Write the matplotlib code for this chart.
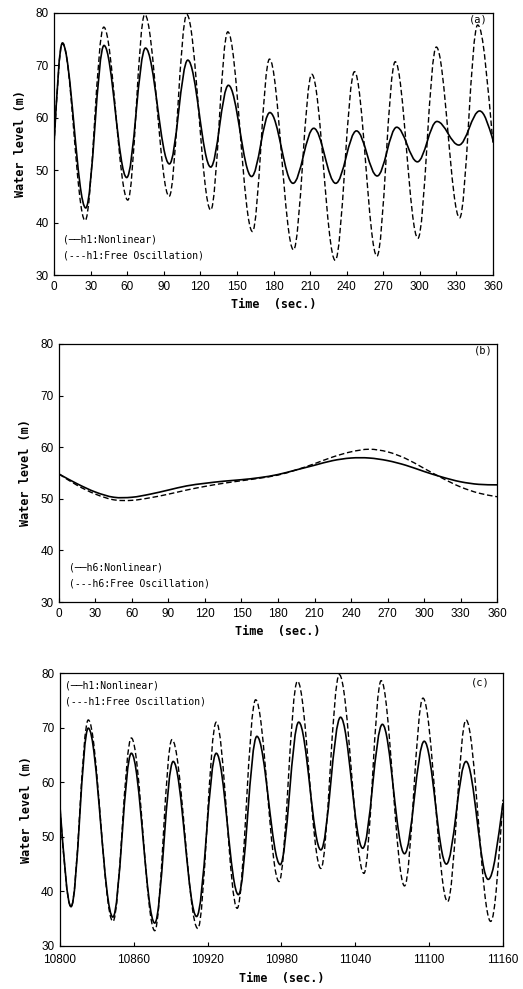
import numpy as np
import matplotlib
matplotlib.use("Agg")
import matplotlib.pyplot as plt
from matplotlib.path import Path
from matplotlib.patches import PathPatch
from matplotlib.font_manager import FontProperties

# ---- panel (a): extrema (time s, level m) ----
a_nl_t = [0, 6.8, 26, 41, 59.6, 75, 94.6, 109.7, 128.5, 143, 162, 177, 196, 213, 231,
          248, 265, 281, 298, 314, 332, 349, 360]
a_nl_y = [55.0, 74.2, 42.8, 73.8, 48.6, 73.3, 51.2, 71.0, 50.6, 66.2, 48.8, 61.0, 47.5,
          58.0, 47.5, 57.5, 48.9, 58.2, 51.6, 59.3, 54.8, 61.3, 55.8]
a_fo_t = [0, 7, 25.5, 40.8, 60.5, 74.4, 94.4, 108.9, 128.5, 142.5, 162.7, 176.7, 196.4,
          211.4, 230.6, 246.4, 264.8, 279.8, 298.4, 313.5, 332.6, 347.4, 360]
a_fo_y = [55.0, 74.3, 40.4, 77.3, 44.3, 79.7, 45.0, 79.7, 42.4, 76.4, 38.3, 71.2, 34.8,
          68.3, 32.8, 68.8, 33.6, 70.7, 37.0, 73.5, 40.9, 77.7, 55.0]

# ---- panel (b): values every 15 s ----
b_t = list(range(0, 361, 15))
b_nl_y = [54.8, 52.9, 51.3, 50.3, 50.3, 50.9, 51.7, 52.5, 53.0, 53.4, 53.7, 54.1, 54.7,
          55.6, 56.5, 57.4, 57.9, 57.9, 57.4, 56.5, 55.3, 54.2, 53.3, 52.8, 52.7]
b_fo_y = [54.8, 52.6, 50.9, 49.8, 49.7, 50.2, 50.9, 51.7, 52.4, 53.0, 53.5, 54.0, 54.6,
          55.6, 56.8, 58.1, 59.1, 59.6, 59.1, 57.8, 55.9, 54.0, 52.3, 51.1, 50.4]

# ---- panel (c): extrema ----
c_nl_t = [10800, 10809, 10823, 10843, 10858, 10877, 10892, 10911, 10927, 10945, 10960,
          10979, 10994, 11012, 11028, 11046, 11062, 11080, 11096, 11114, 11130, 11148, 11160]
c_nl_y = [55.5, 37.2, 69.9, 35.3, 65.3, 34.2, 63.8, 35.4, 65.3, 39.4, 68.4, 44.9, 71.0,
          47.6, 71.9, 47.9, 70.6, 46.9, 67.5, 45.0, 63.8, 42.2, 56.2]
c_fo_t = [10800, 10809, 10823, 10843, 10858, 10877, 10891, 10912, 10927, 10944, 10959,
          10978, 10993, 11012, 11027, 11047, 11061, 11080, 11095, 11115, 11130, 11150, 11160]
c_fo_y = [55.0, 37.2, 71.4, 34.5, 68.1, 32.8, 67.8, 33.2, 71.0, 36.9, 75.1, 41.8, 78.5,
          44.2, 79.7, 43.3, 78.6, 41.0, 75.4, 38.1, 71.4, 34.5, 56.8]


def smooth_path(t, y, flat=True):
    # cubic bezier through the points; flat=True -> horizontal tangents at interior extrema
    t = np.asarray(t, float); y = np.asarray(y, float)
    n = len(t)
    m = np.zeros(n)
    for i in range(n):
        if 0 < i < n - 1:
            m[i] = 0.0 if flat else (y[i + 1] - y[i - 1]) / (t[i + 1] - t[i - 1])
        elif i == 0:
            m[i] = (1.4 if flat else 1.0) * (y[1] - y[0]) / (t[1] - t[0])
        else:
            m[i] = (1.4 if flat else 1.0) * (y[-1] - y[-2]) / (t[-1] - t[-2])
    k = 0.36 if flat else 1 / 3.
    verts = [(t[0], y[0])]
    codes = [Path.MOVETO]
    for i in range(n - 1):
        dt = t[i + 1] - t[i]
        verts += [(t[i] + k * dt, y[i] + k * dt * m[i]),
                  (t[i + 1] - k * dt, y[i + 1] - k * dt * m[i + 1]),
                  (t[i + 1], y[i + 1])]
        codes += [Path.CURVE4] * 3
    return Path(verts, codes)


def draw(ax, t, y, dashed=False, flat=True):
    ls = (0, (4, 2)) if dashed else '-'
    lw = 1.0 if dashed else 1.2
    ax.add_patch(PathPatch(smooth_path(t, y, flat), fill=False, edgecolor='black',
                           linewidth=lw, linestyle=ls, capstyle='butt'))


tick_fp = FontProperties(family=['Liberation Sans', 'DejaVu Sans'], size=8.5)
mono = ['DejaVu Sans Mono']


def style(ax, xlim, xticks, label, tag, leg_xy, tag_xy, xpad=4):
    ax.set_xlim(*xlim)
    ax.set_ylim(30, 80)
    ax.set_xticks(xticks)
    ax.set_yticks([30, 40, 50, 60, 70, 80])
    ax.tick_params(direction='in', length=3, width=0.8, pad=4)
    ax.tick_params(axis='x', pad=xpad)
    for lab in ax.get_xticklabels() + ax.get_yticklabels():
        lab.set_fontproperties(tick_fp)
    for s in ax.spines.values():
        s.set_linewidth(0.9)
    ax.set_xlabel("Time  (sec.)", fontsize=8.5, fontweight='bold', family=mono, labelpad=4)
    ax.set_ylabel("Water level (m)", fontsize=8.5, fontweight='bold', family=mono, labelpad=6)
    lx, ly = leg_xy
    ax.text(lx, ly, "(\u2500\u2500" + label + ":Nonlinear)", transform=ax.transAxes,
            family=mono, fontsize=7, va='center')
    ax.text(lx, ly - 0.06, "(---" + label + ":Free Oscillation)", transform=ax.transAxes,
            family=mono, fontsize=7, va='center')
    ax.text(tag_xy[0], tag_xy[1], tag, transform=ax.transAxes, family=mono,
            fontsize=7.5, ha='center', va='center')


fig = plt.figure(figsize=(5.23, 9.89), dpi=100)

ax_a = fig.add_axes([0.1033, 0.7219, 0.8394, 0.2650])
draw(ax_a, a_nl_t, a_nl_y)
draw(ax_a, a_fo_t, a_fo_y, dashed=True)
style(ax_a, (0, 360), range(0, 361, 30), "h1", "(a)", (0.02, 0.134), (0.966, 0.975))

ax_b = fig.add_axes([0.1128, 0.3913, 0.8375, 0.2609])
draw(ax_b, b_t, b_nl_y, flat=False)
draw(ax_b, b_t, b_fo_y, dashed=True, flat=False)
style(ax_b, (0, 360), range(0, 361, 30), "h6", "(b)", (0.023, 0.132), (0.968, 0.975))

ax_c = fig.add_axes([0.1147, 0.0435, 0.8470, 0.2760])
draw(ax_c, c_nl_t, c_nl_y)
draw(ax_c, c_fo_t, c_fo_y, dashed=True)
style(ax_c, (10800, 11160), range(10800, 11161, 60), "h1", "(c)", (0.011, 0.956),
      (0.948, 0.967), xpad=6)

fig.savefig("out.png", dpi=100)
